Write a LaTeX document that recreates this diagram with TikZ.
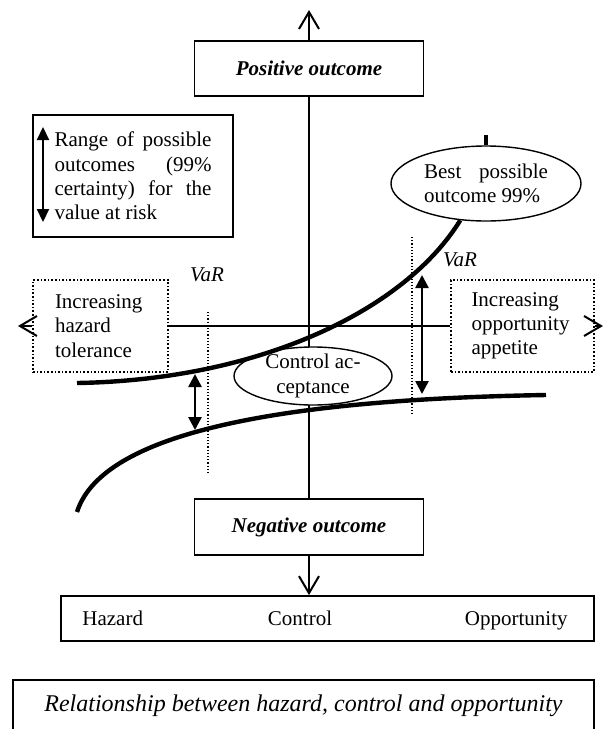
\documentclass[tikz,border=0pt]{standalone}
\usepackage{fontspec}
\setmainfont{Liberation Serif}
\usetikzlibrary{arrows.meta,shapes.geometric}

\begin{document}
\begin{tikzpicture}[x=0.5pt, y=-0.5pt, font=\fontsize{10.5}{12.1}\selectfont,
  box/.style = {draw, line width=0.9pt, fill=white, inner sep=0pt, align=center},
  dotbox/.style = {draw, densely dotted, line width=0.8pt, fill=white, inner sep=0pt, align=left},
  bubble/.style = {draw, ellipse, line width=0.7pt, fill=white, inner sep=0pt, align=center},
  axis/.style = {line width=1pt},
  opentip/.style = {-{Straight Barb[length=8.5pt,width=10pt]}},
  curve/.style = {line width=2.2pt},
  marker/.style = {densely dotted, line width=0.6pt},
  vararrow/.style = {line width=1.3pt, {Triangle[length=6.5pt,width=6.5pt]}-{Triangle[length=6.5pt,width=6.5pt]}}]

\useasboundingbox (0,0) rectangle (602,729);

\coordinate (ytop) at (309,10);
\coordinate (xleft) at (18,326);
\coordinate (xright) at (603,326);

\node[box, minimum width=114.5pt, minimum height=27.5pt, font=\fontsize{10.5}{12.1}\selectfont\bfseries\itshape] (pos) at (309,68.5) {Positive outcome};
\node[box, minimum width=114.5pt, minimum height=28pt, font=\fontsize{10.5}{12.1}\selectfont\bfseries\itshape] (neg) at (309,527) {Negative outcome};
\node[dotbox, minimum width=67.5pt, minimum height=46pt, text width=45.5pt] (haz) at (100.5,326) {Increasing\\hazard\\tolerance};
\node[dotbox, minimum width=71.5pt, minimum height=46pt, text width=51pt] (opp) at (522.5,326) {Increasing\\opportunity\\appetite};
\node[box, minimum width=266.5pt, minimum height=22.5pt] (scale) at (327.5,618.5) {};

% axes
\draw[axis, opentip] (pos.north) -- (ytop);
\draw[axis] (pos.south) -- (neg.north);
\draw[axis, opentip] (neg.south) -- (neg.south |- scale.north);
\draw[axis, opentip] (haz.west) -- (xleft);
\draw[axis] (haz.east) -- (opp.west);
\draw[axis, opentip] (opp.east) -- (xright);

\node[bubble, minimum width=79pt, minimum height=29pt, inner ysep=-3pt] (ctrl) at (313,376) {Control ac-\\ceptance};
\node[bubble, minimum width=95pt, minimum height=37.5pt, text width=62pt, align=justify] (best) at (486,183.5) {Best possible\linebreak outcome 99\%};

% value at risk curves
\coordinate (upstart) at (77,383);
\coordinate (lowstart) at (77,512);
\coordinate (lowend) at (546,395);
\coordinate (tick) at (484,135);
\draw[curve] (upstart) .. controls (260,380) and (405,310) .. (best.235);
\draw[curve] (lowstart) .. controls (100,440) and (250,400) .. (lowend);
\draw[curve] (best.north) -- (best.north |- tick);

% VaR markers
\coordinate (vl1) at (208,312);
\coordinate (vl2) at (208,475);
\coordinate (vr1) at (412,237);
\coordinate (vr2) at (412,415);
\draw[marker] (vl1) -- (vl2);
\draw[marker] (vr1) -- (vr2);
\node[font=\fontsize{10.5}{12.1}\selectfont\itshape] (varl) at (207,275) {VaR};
\node[font=\fontsize{10.5}{12.1}\selectfont\itshape] (varr) at (460,260) {VaR};

\coordinate (al1) at (195,374);
\coordinate (al2) at (195,430);
\coordinate (ar1) at (422,275);
\coordinate (ar2) at (422,394);
\draw[vararrow] (al1) -- (al2);
\draw[vararrow] (ar1) -- (ar2);

% legend
\node[box, minimum width=100pt, minimum height=61pt, text width=78.5pt, align=justify] (rng) at (133,176) {Range of possible\linebreak outcomes (99\%\linebreak certainty) for the\linebreak value at risk};
\coordinate (rtop) at (43,127);
\coordinate (rbot) at (43,222);
\draw[line width=1.1pt, {Triangle[length=6.5pt,width=6pt]}-{Triangle[length=6.5pt,width=6pt]}] (rtop) -- (rbot);

% scale labels
\node[anchor=base west, inner sep=0pt] (hazard) at (82,625) {Hazard};
\node[anchor=base, inner sep=0pt] (control) at (300,625) {Control};
\node[anchor=base east, inner sep=0pt] (opportunity) at (568,625) {Opportunity};

% caption
\node[box, anchor=north, minimum width=290.5pt, text height=9pt, text depth=30pt, inner ysep=7pt, font=\fontsize{12}{14}\selectfont\itshape] (caption) at (303.5,679) {Relationship between hazard, control and opportunity};
\end{tikzpicture}
\end{document}
